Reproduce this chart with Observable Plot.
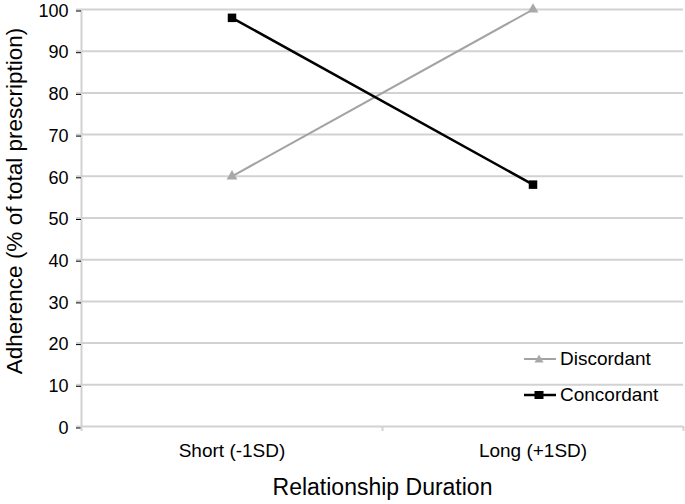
<!DOCTYPE html>
<html>
<head>
<meta charset="utf-8">
<script src="https://cdn.jsdelivr.net/npm/d3@7"></script>
<script src="https://cdn.jsdelivr.net/npm/@observablehq/plot@0.6"></script>
<style>
  html, body { margin: 0; padding: 0; background: #fff; }
  #wrap { position: relative; width: 685px; height: 504px; font-family: "Liberation Sans", Arial, sans-serif; }
  #legend { position: absolute; left: 522px; top: 341px; font-size: 19px; color: #000; }
  .li { display: flex; align-items: center; height: 36px; }
  .li svg { margin-right: 4px; }
</style>
</head>
<body>
<div id="wrap"></div>
<script>
const categories = ["Short (-1SD)", "Long (+1SD)"];
const discordant = [60, 100];
const concordant = [98, 58];
const yTicks = [0, 10, 20, 30, 40, 50, 60, 70, 80, 90, 100];
const seriesNames = ["Discordant", "Concordant"];
const seriesColors = ["#a3a3a3", "#000000"];

const rows = [];
categories.forEach((c, i) => {
  rows.push({series: "Discordant", pos: i + 0.5, value: discordant[i]});
  rows.push({series: "Concordant", pos: i + 0.5, value: concordant[i]});
});
const disc = rows.filter(d => d.series === "Discordant");
const conc = rows.filter(d => d.series === "Concordant");

const gridColor = "#d2d2d2";

const chart = Plot.plot({
  width: 685,
  height: 504,
  marginLeft: 81,
  marginRight: 2,
  marginTop: 9,
  marginBottom: 78,
  style: {fontFamily: "Liberation Sans, Arial, sans-serif", background: "#fff"},
  x: {type: "linear", domain: [0, categories.length]},
  y: {domain: [0, 100]},
  marks: [
    Plot.ruleY(yTicks, {stroke: gridColor, strokeWidth: 2}),
    Plot.ruleX([0], {stroke: gridColor, strokeWidth: 2}),
    Plot.axisY({ticks: yTicks, tickSize: 5, tickPadding: 8, stroke: gridColor, strokeWidth: 2, text: null, label: null}),
    Plot.axisY({ticks: yTicks, tickSize: 5, tickPadding: 8, fontSize: 18, color: "#000", dy: 1.5, label: null, tick: null}),
    Plot.axisX({ticks: d3.range(categories.length + 1), tickSize: 5, tickFormat: () => "", stroke: gridColor, strokeWidth: 2, label: null}),
    Plot.axisX({ticks: categories.map((c, i) => i + 0.5), tickSize: 0, tickPadding: 17, tickFormat: (d) => categories[Math.floor(d)], fontSize: 19, color: "#000", label: null}),
    Plot.text(["Adherence (% of total prescription)"], {frameAnchor: "left", textAnchor: "middle", dx: -67, dy: -17, rotate: -90, fontSize: 22.5, fill: "#000", lineAnchor: "middle"}),
    Plot.text(["Relationship Duration"], {frameAnchor: "bottom", dy: 61, fontSize: 23, fill: "#000", lineAnchor: "middle"}),
    Plot.line(disc, {x: "pos", y: "value", stroke: seriesColors[0], strokeWidth: 2}),
    Plot.line(conc, {x: "pos", y: "value", stroke: seriesColors[1], strokeWidth: 2.5}),
    Plot.dot(disc, {x: "pos", y: "value", symbol: "triangle", r: 4, fill: "#a8a8a8", stroke: "none"}),
    Plot.dot(conc, {x: "pos", y: "value", symbol: "square", r: 4.8, fill: "#000", stroke: "none"})
  ]
});

const wrap = document.getElementById("wrap");
wrap.appendChild(chart);

const legend = document.createElement("div");
legend.id = "legend";
seriesNames.forEach((name, i) => {
  const row = document.createElement("div");
  row.className = "li";
  const sym = i === 0
    ? `<polygon points="17,-4.5 21.5,3.5 12.5,3.5" fill="#a8a8a8"/>`
    : `<rect x="12.5" y="-4" width="9" height="8" fill="#000"/>`;
  row.innerHTML = `<svg width="34" height="14" viewBox="0 -7 34 14"><line x1="2" x2="34" y1="0" y2="0" stroke="${seriesColors[i]}" stroke-width="${i === 0 ? 2 : 2.5}"/>${sym}</svg><span>${name}</span>`;
  legend.appendChild(row);
});
wrap.appendChild(legend);
</script>
</body>
</html>
